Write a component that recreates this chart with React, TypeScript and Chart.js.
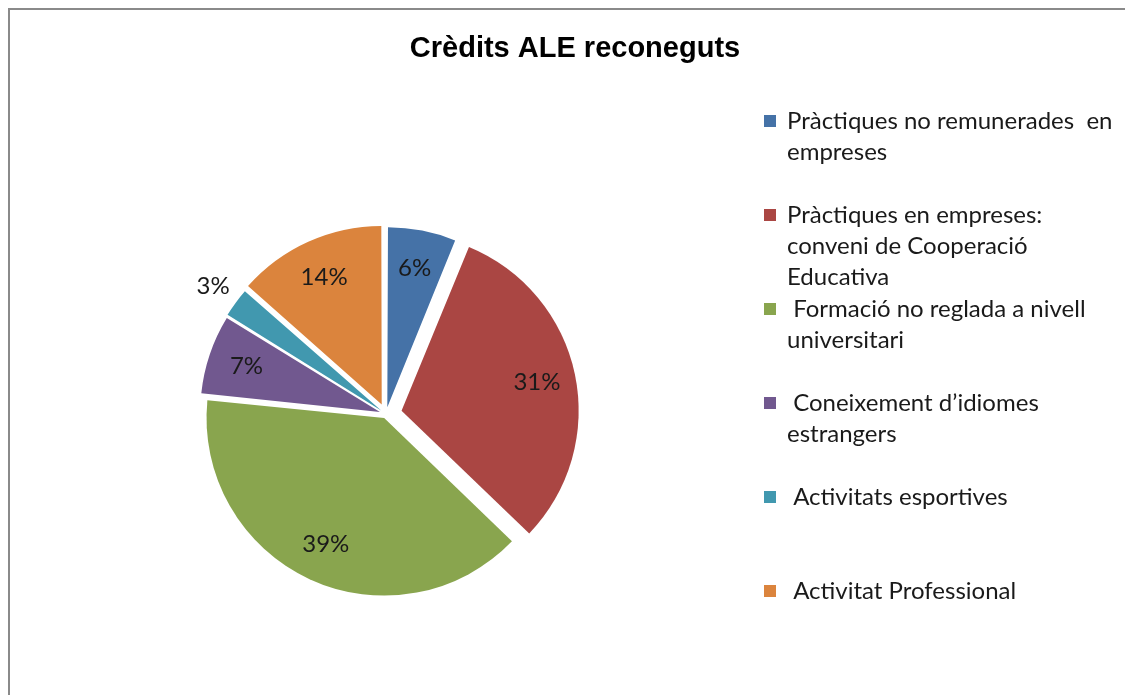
import React, { useEffect, useRef } from "react";
import { Chart, registerables, layouts } from "chart.js";

Chart.register(...registerables);

// ---- data ----
const categories: string[][] = [
  ["Pràctiques no remunerades  en", "empreses"],
  ["Pràctiques en empreses:", "conveni de Cooperació", "Educativa"],
  [" Formació no reglada a nivell", "universitari"],
  [" Coneixement d’idiomes", "estrangers"],
  [" Activitats esportives"],
  [" Activitat Professional"],
];
const values: number[] = [6.2, 31.0, 39.4, 7.2, 2.7, 13.5];
const colors: string[] = ["#4572A7", "#AA4643", "#89A54E", "#71588F", "#4198AF", "#DB843D"];
// visible explosion distance of each slice (px)
const explode: number[] = [11, 17, 6, 10, 11, 13];

const titleText = "Crèdits ALE reconeguts";

// ---- layout / style ----
const CANVAS_W = 1123;
const CANVAS_H = 685;
const PIE_RADIUS = 176;
const PIE_CENTER_Y = 404;
const TITLE_SIZE = 29;
const TITLE_PAD_TOP = 22;
const LEGEND_WIDTH = 378;
const LEGEND_FIRST_Y = 111;
const LEGEND_ITEM_STEP = 94;
const LEGEND_LINE_STEP = 31;
const TEXT_FONT = "Lato, 'Open Sans', sans-serif";
const TEXT_SIZE = 24;

// Chart.js arc draws a translation of (offset/4)*(1+fix); invert it so the
// visible explosion equals `explode`.
const totalValue = values.reduce((a, b) => a + b, 0);
const rawOffsets = explode.map((d, i) => {
  const circ = (values[i] / totalValue) * Math.PI * 2;
  const fix = 1 - Math.sin(Math.min(Math.PI, circ));
  return (4 * d) / (1 + fix);
});
const maxRaw = Math.max(...rawOffsets);
const areaH = 2 * PIE_RADIUS + maxRaw;
const areaTop = PIE_CENTER_Y - areaH / 2;
const padBottom = CANVAS_H - (PIE_CENTER_Y + areaH / 2);
const titleLineH = TITLE_SIZE * 1.2;
const titlePadBottom = areaTop - TITLE_PAD_TOP - titleLineH;

const legendBoxPlugin = {
  id: "sideLegend",
  beforeInit(chart: any) {
    const box: any = {
      position: "right",
      weight: 1000,
      fullSize: false,
      options: {},
      left: 0, top: 0, right: 0, bottom: 0, width: 0, height: 0,
      isHorizontal() { return false; },
      update(maxWidth: number, maxHeight: number) {
        this.width = LEGEND_WIDTH;
        this.height = maxHeight;
      },
      draw() {
        const ctx = chart.ctx;
        ctx.save();
        ctx.font = `${TEXT_SIZE}px ${TEXT_FONT}`;
        ctx.textBaseline = "middle";
        ctx.textAlign = "left";
        const labels = chart.data.labels as string[][];
        const bg = chart.data.datasets[0].backgroundColor as string[];
        labels.forEach((lines, i) => {
          const y0 = LEGEND_FIRST_Y + i * LEGEND_ITEM_STEP;
          ctx.fillStyle = bg[i];
          ctx.fillRect(this.left + 9, y0 - 6, 12, 12);
          ctx.fillStyle = "#1a1a1a";
          lines.forEach((ln, j) => {
            ctx.fillText(ln, this.left + 32, y0 + j * LEGEND_LINE_STEP);
          });
        });
        ctx.restore();
      },
    };
    layouts.addBox(chart, box);
  },
};

const pctLabelPlugin = {
  id: "pctLabels",
  afterDatasetsDraw(chart: any) {
    const meta = chart.getDatasetMeta(0);
    const data = chart.data.datasets[0].data as number[];
    const total = data.reduce((a, b) => a + b, 0);
    const ctx = chart.ctx;
    ctx.save();
    ctx.font = `${TEXT_SIZE}px ${TEXT_FONT}`;
    ctx.fillStyle = "#1a1a1a";
    ctx.textAlign = "center";
    ctx.textBaseline = "middle";
    meta.data.forEach((arc: any, i: number) => {
      const p = arc.getProps(["x", "y", "startAngle", "endAngle", "outerRadius"], true);
      const mid = (p.startAngle + p.endAngle) / 2;
      const pct = (data[i] / total) * 100;
      const r = explode[i] + p.outerRadius * (pct < 5 ? 1.16 : 0.78);
      ctx.fillText(Math.round(pct) + "%", p.x + Math.cos(mid) * r, p.y + Math.sin(mid) * r);
    });
    ctx.restore();
  },
};

export default function App() {
  const ref = useRef<HTMLCanvasElement | null>(null);
  useEffect(() => {
    document.body.style.overflow = "hidden";
    if (!ref.current) return;
    const chart = new Chart(ref.current, {
      type: "pie",
      data: {
        labels: categories as any,
        datasets: [
          {
            data: values,
            backgroundColor: colors,
            borderWidth: 0,
            offset: rawOffsets,
            hoverOffset: 0,
          },
        ],
      },
      options: {
        responsive: false,
        animation: false,
        layout: { padding: { left: 7, right: 0, top: 0, bottom: padBottom } },
        plugins: {
          legend: { display: false },
          tooltip: { enabled: false },
          title: {
            display: true,
            text: titleText,
            color: "#000",
            font: { family: "'Liberation Sans', Arial, sans-serif", size: TITLE_SIZE, weight: "bold", lineHeight: 1.2 },
            padding: { top: TITLE_PAD_TOP, bottom: titlePadBottom },
          },
        },
      },
      plugins: [legendBoxPlugin, pctLabelPlugin],
    });
    return () => chart.destroy();
  }, []);
  return (
    <div
      style={{
        position: "relative",
        width: 1125,
        height: 687,
        boxSizing: "border-box",
        borderTop: "2px solid #8a8a8a",
        borderLeft: "2px solid #8a8a8a",
        background: "#fff",
      }}
    >
      <canvas ref={ref} width={CANVAS_W} height={CANVAS_H} style={{ display: "block" }} />
    </div>
  );
}
